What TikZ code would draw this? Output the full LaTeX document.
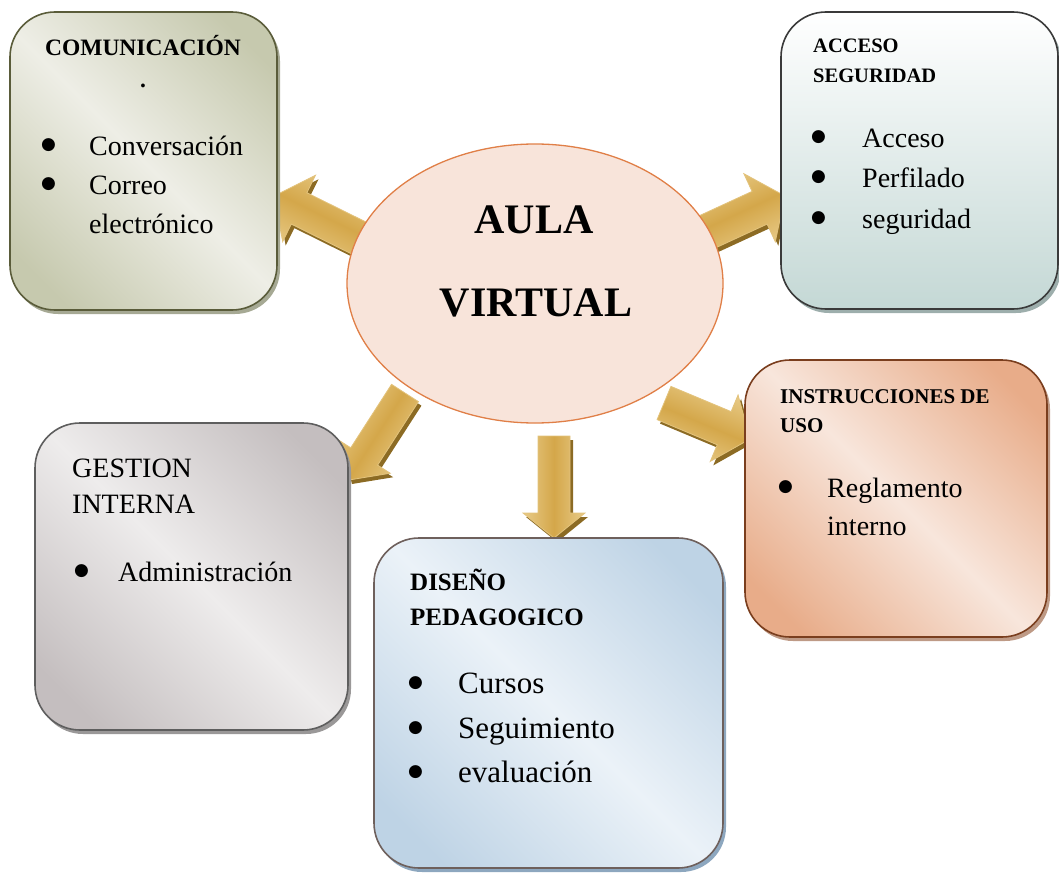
\documentclass[tikz,border=0pt]{standalone}
\usepackage{fontspec}
\setmainfont{Liberation Serif}
\newfontfamily\symbfont{DejaVu Sans}
\usetikzlibrary{calc,shapes.geometric}

\definecolor{bAdark}{HTML}{C6C9AE}
\definecolor{bAlight}{HTML}{EEEEE6}
\definecolor{bAline}{HTML}{5A5C3A}
\definecolor{bAshadow}{HTML}{A6A994}
\definecolor{bBtop}{HTML}{FFFFFF}
\definecolor{bBbottom}{HTML}{C4D8D5}
\definecolor{bBline}{HTML}{3A3A3A}
\definecolor{bBshadow}{HTML}{9DAEAC}
\definecolor{bCdark}{HTML}{E8AC89}
\definecolor{bClight}{HTML}{F8E6DC}
\definecolor{bCline}{HTML}{7A3E1E}
\definecolor{bCshadow}{HTML}{BE9A86}
\definecolor{bDdark}{HTML}{C4BEBF}
\definecolor{bDlight}{HTML}{EEECEC}
\definecolor{bDline}{HTML}{5E5E5E}
\definecolor{bDshadow}{HTML}{9A9898}
\definecolor{bEdark}{HTML}{BED3E5}
\definecolor{bElight}{HTML}{EBF2F8}
\definecolor{bEline}{HTML}{6E605C}
\definecolor{bEshadow}{HTML}{8DA7BF}
\definecolor{ellfill}{HTML}{F8E4DA}
\definecolor{ellline}{HTML}{E07F47}
\definecolor{goldlight}{HTML}{E8CB88}
\definecolor{golddark}{HTML}{D4A74A}
\definecolor{goldline}{HTML}{E3C37C}
\definecolor{goldshadow}{HTML}{8C6B24}

\pgfdeclarehorizontalshading{shA}{100bp}{color(0bp)=(bAdark); color(22bp)=(bAdark); color(50bp)=(bAlight); color(78bp)=(bAdark); color(100bp)=(bAdark)}
\pgfdeclarehorizontalshading{shC}{100bp}{color(0bp)=(bCdark); color(22bp)=(bCdark); color(50bp)=(bClight); color(78bp)=(bCdark); color(100bp)=(bCdark)}
\pgfdeclarehorizontalshading{shD}{100bp}{color(0bp)=(bDdark); color(22bp)=(bDdark); color(50bp)=(bDlight); color(78bp)=(bDdark); color(100bp)=(bDdark)}
\pgfdeclarehorizontalshading{shE}{100bp}{color(0bp)=(bEdark); color(22bp)=(bEdark); color(50bp)=(bElight); color(78bp)=(bEdark); color(100bp)=(bEdark)}

\tikzset{
  boxbase/.style={rectangle, rounded corners=45pt, inner sep=0pt, line width=1.6pt},
  shadowbox/.style={boxbase, draw=none, fill=#1},
  txt/.style={inner sep=0pt, anchor=base west, font=\fontsize{28}{34}\selectfont},
  bul/.style={inner sep=0pt, anchor=base west, font=\symbfont\fontsize{17}{17}\selectfont},
  bigtxt/.style={inner sep=0pt, anchor=base west, font=\fontsize{31}{36}\selectfont},
  headtxt/.style={inner sep=0pt, anchor=base west, font=\bfseries\fontsize{#1}{#1}\selectfont},
  titletxt/.style={inner sep=0pt, anchor=base, font=\bfseries\fontsize{42}{42}\selectfont},
  arrowshadow/.style={fill=goldshadow},
  arrowbody/.style={draw=goldline, line width=0.8pt, line join=miter}
}

% #1 base coordinate, #2 tip coordinate, #3 shaft half width, #4 head half width,
% #5 head length, #6 shading angle
\newcommand{\blockarrow}[6]{%
  \coordinate (ba-h) at ($(#2)!#5pt!(#1)$);
  \coordinate (ba-p1) at ($(#1)!#3pt!90:(#2)$);
  \coordinate (ba-p2) at ($(#1)!#3pt!-90:(#2)$);
  \coordinate (ba-q1) at ($(ba-h)!#3pt!90:(#2)$);
  \coordinate (ba-q2) at ($(ba-h)!#3pt!-90:(#2)$);
  \coordinate (ba-r1) at ($(ba-h)!#4pt!90:(#2)$);
  \coordinate (ba-r2) at ($(ba-h)!#4pt!-90:(#2)$);
  \fill[arrowshadow] ($(ba-p1)+(3,4)$) -- ($(ba-q1)+(3,4)$) -- ($(ba-r1)+(3,4)$)
    -- ($(#2)+(3,4)$) -- ($(ba-r2)+(3,4)$) -- ($(ba-q2)+(3,4)$) -- ($(ba-p2)+(3,4)$) -- cycle;
  \path[arrowbody, top color=goldlight, bottom color=goldlight, middle color=golddark,
    shading angle=#6] (ba-p1) -- (ba-q1) -- (ba-r1) -- (#2) -- (ba-r2) -- (ba-q2)
    -- (ba-p2) -- cycle;
}

\begin{document}
\begin{tikzpicture}[x=1pt, y=-1pt]
\useasboundingbox (0,0) rectangle (1059,872);

% connector end points
\coordinate (a1s) at (375,246);  \coordinate (a1e) at (274,196);
\coordinate (a2s) at (694,238);  \coordinate (a2e) at (785,196);
\coordinate (a3s) at (405,393);  \coordinate (a3e) at (349,480);
\coordinate (a4s) at (554,436);  \coordinate (a4e) at (554,538);
\coordinate (a5s) at (664,403);  \coordinate (a5e) at (750,439);

% block arrows (under the ellipse and the boxes)
\blockarrow{a1s}{a1e}{17.5}{37}{28}{153.7}
\blockarrow{a2s}{a2e}{18}{37.5}{28}{25}
\blockarrow{a3s}{a3e}{16}{31}{28}{237}
\blockarrow{a4s}{a4e}{16}{31}{25}{90}
\blockarrow{a5s}{a5e}{18}{36}{28}{-22.7}

% central ellipse
\node[ellipse, draw=ellline, line width=1.3pt, fill=ellfill, inner sep=0pt,
      minimum width=376pt, minimum height=279pt] (aula) at (535,283.5) {};
\node[titletxt] (aula1) at (534,233) {AULA};
\node[titletxt] (aula2) at (536,316) {VIRTUAL};

% box A: COMUNICACION
\node[shadowbox=bAshadow, minimum width=267pt, minimum height=298pt] (bAs) at (146.5,165) {};
\node[boxbase, draw=bAline, shading=shA, shading angle=45,
      minimum width=267pt, minimum height=298pt] (bA) at (143.5,161) {};
\node[headtxt=23.5, anchor=base] (bAh) at (143,56) {COMUNICACIÓN};
\node[headtxt=23.5, anchor=base] (bAdot) at (143,88) {.};
\node[bul] (bAb1) at (41,149) {●};
\node[bul] (bAb2) at (41,188) {●};
\node[txt] (bAt1) at (89,155) {Conversación};
\node[txt] (bAt2) at (89,194) {Correo};
\node[txt] (bAt3) at (89,233) {electrónico};

% box B: ACCESO SEGURIDAD
\node[shadowbox=bBshadow, minimum width=277pt, minimum height=297pt] (bBs) at (922.5,164.5) {};
\node[boxbase, draw=bBline, top color=bBtop, bottom color=bBbottom,
      minimum width=277pt, minimum height=297pt] (bB) at (919.5,160.5) {};
\node[headtxt=20.5] (bBh1) at (813,53) {ACCESO};
\node[headtxt=20.5] (bBh2) at (813,83) {SEGURIDAD};
\node[bul] (bBb1) at (811,141) {●};
\node[bul] (bBb2) at (811,181) {●};
\node[bul] (bBb3) at (811,222) {●};
\node[txt] (bBt1) at (862,147) {Acceso};
\node[txt] (bBt2) at (862,187) {Perfilado};
\node[txt] (bBt3) at (862,228) {seguridad};

% box C: INSTRUCCIONES DE USO
\node[shadowbox=bCshadow, minimum width=302pt, minimum height=277pt] (bCs) at (899,502.5) {};
\node[boxbase, draw=bCline, shading=shC, shading angle=45,
      minimum width=302pt, minimum height=277pt] (bC) at (896,498.5) {};
\node[headtxt=21] (bCh1) at (780,403) {INSTRUCCIONES DE};
\node[headtxt=21] (bCh2) at (780,432) {USO};
\node[bul] (bCb1) at (778,491) {●};
\node[txt] (bCt1) at (827,497) {Reglamento};
\node[txt] (bCt2) at (827,535) {interno};

% box D: GESTION INTERNA
\node[shadowbox=bDshadow, minimum width=313pt, minimum height=307pt] (bDs) at (194.5,580.5) {};
\node[boxbase, draw=bDline, shading=shD, shading angle=45,
      minimum width=313pt, minimum height=307pt] (bD) at (191.5,576.5) {};
\node[txt] (bDh1) at (72,477) {GESTION};
\node[txt] (bDh2) at (72,513) {INTERNA};
\node[bul] (bDb1) at (74,575) {●};
\node[txt] (bDt1) at (118,581) {Administración};

% box E: DISENO PEDAGOGICO
\node[shadowbox=bEshadow, minimum width=349pt, minimum height=330pt] (bEs) at (551.5,707) {};
\node[boxbase, draw=bEline, shading=shE, shading angle=45,
      minimum width=349pt, minimum height=330pt] (bE) at (548.5,703) {};
\node[headtxt=25] (bEh1) at (410,590) {DISEÑO};
\node[headtxt=25] (bEh2) at (410,625) {PEDAGOGICO};
\node[bul] (bEb1) at (408,687) {●};
\node[bul] (bEb2) at (408,732) {●};
\node[bul] (bEb3) at (408,776) {●};
\node[bigtxt] (bEt1) at (458,693) {Cursos};
\node[bigtxt] (bEt2) at (458,738) {Seguimiento};
\node[bigtxt] (bEt3) at (458,782) {evaluación};
\end{tikzpicture}
\end{document}
